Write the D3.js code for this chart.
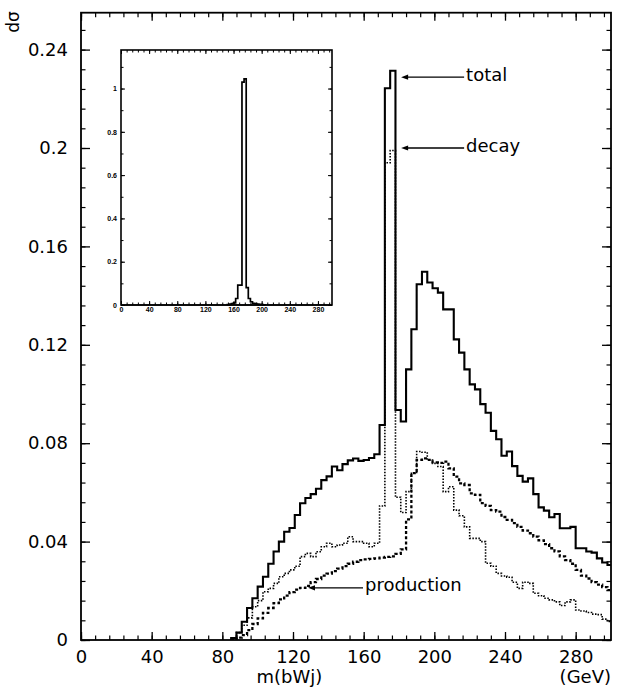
<!DOCTYPE html>
<html><head><meta charset="utf-8">
<script src="https://cdn.jsdelivr.net/npm/d3@7"></script>
<style>body{margin:0;background:#fff} svg{display:block}</style>
</head><body>
<svg id="chart" width="618" height="688"></svg>
<script>
// ---------- data (3 GeV bins, low edges in GeV) ----------
const binLowEdges = [85,88,91,94,97,100,103,106,109,112,115,118,121,124,127,130,
  133,136,139,142,145,148,151,154,157,160,163,166,169,172,175,178,181,184,187,190,
  193,196,199,202,205,208,211,214,217,220,223,226,229,232,235,238,241,244,247,250,
  253,256,259,262,265,268,271,274,277,280,283,286,289,292,295,298];
const binWidth = 3;
const totalValues = [0.0008,0.003,0.0074,0.013,0.017,0.0217,0.0257,0.031,0.036,0.040,0.044,0.0455,0.0508,0.0556,0.0577,0.0593,
  0.0615,0.065,0.0665,0.0705,0.069,0.0715,0.073,0.0738,0.0728,0.0732,0.074,0.0755,0.0874,0.2243,0.2314,0.0935,0.0888,0.110,0.1263,0.1446,
  0.1497,0.1453,0.143,0.1412,0.1344,0.1344,0.1222,0.1168,0.110,0.1039,0.1019,0.0959,0.0924,0.085,0.0816,0.0749,0.0766,0.0707,0.0667,0.0644,
  0.0657,0.0593,0.0539,0.0526,0.0499,0.0512,0.0454,0.0454,0.046,0.0373,0.0373,0.036,0.0355,0.0332,0.0315,0.0305];
const decayValues = [0.0008,0.003,0.006,0.009,0.0135,0.016,0.0196,0.021,0.023,0.0257,0.0271,0.0285,0.030,0.0339,0.0352,0.0339,
  0.0359,0.0379,0.0393,0.0379,0.0386,0.0393,0.042,0.040,0.040,0.0393,0.0379,0.0393,0.0545,0.194,0.199,0.058,0.0518,0.0603,0.0678,0.0766,
  0.0763,0.0732,0.0718,0.0705,0.0603,0.0623,0.0528,0.0505,0.046,0.0413,0.0413,0.040,0.0312,0.030,0.0271,0.026,0.0255,0.0235,0.021,0.0235,
  0.023,0.019,0.018,0.017,0.0163,0.0155,0.014,0.0155,0.0163,0.0122,0.0118,0.0112,0.0105,0.0103,0.0085,0.0075];
const productionValues = [0.0,0.001,0.002,0.004,0.0065,0.0088,0.011,0.013,0.015,0.0165,0.018,0.0195,0.0205,0.0212,0.022,0.0235,
  0.0248,0.0262,0.027,0.028,0.029,0.030,0.031,0.0318,0.0325,0.0328,0.033,0.0332,0.0335,0.0338,0.034,0.035,0.0368,0.049,0.0678,0.0732,
  0.0738,0.0732,0.0722,0.072,0.0725,0.0698,0.0664,0.0637,0.063,0.0596,0.059,0.0556,0.0545,0.0528,0.0522,0.050,0.0488,0.0475,0.046,0.0445,
  0.0434,0.042,0.0405,0.039,0.0373,0.036,0.034,0.0325,0.031,0.0285,0.0262,0.025,0.0235,0.0225,0.0215,0.0203];

const insetBinLowEdges = [151,154,157,160,163,166,169,172,175,178,181,184,187,190,193,196,199,202];
const insetValues = [0.002,0.004,0.006,0.01,0.03,0.092,0.092,1.03,1.045,0.08,0.03,0.015,0.008,0.006,0.004,0.003,0.002,0.001];

const xMajorTicks = [0,40,80,120,160,200,240,280];
const yMajorTicks = [0,0.04,0.08,0.12,0.16,0.2,0.24];
const yTickLabels = ["0","0.04","0.08","0.12","0.16","0.2","0.24"];
const insetYTicks = [0,0.2,0.4,0.6,0.8,1];
const insetYTickLabels = ["0","0.2","0.4","0.6","0.8","1"];
const seriesNames = ["total","decay","production"];

// ---------- drawing ----------
const svg = d3.select("#chart");
const FONT = "DejaVu Sans, sans-serif";

const x = d3.scaleLinear().domain([0,300]).range([81,611]);
const y = d3.scaleLinear().domain([0,0.255]).range([640,12.7]);

function histPoints(edges, vals, w) {
  const pts = [[edges[0], 0]];
  edges.forEach((e,i) => { pts.push([e, vals[i]]); pts.push([e + w, vals[i]]); });
  pts.push([edges[edges.length-1] + w, 0]);
  return pts;
}

svg.append("defs").append("clipPath").attr("id","clipMain")
  .append("rect").attr("x",x(0)).attr("y",y(0.255)).attr("width",x(300)-x(0)).attr("height",y(0)-y(0.255));

function styleAxis(g, size, width) {
  g.select(".domain").remove();
  g.selectAll(".tick line").attr("stroke","#000").attr("stroke-width",width);
  g.selectAll(".tick text").attr("font-family",FONT).attr("font-size",size).attr("fill","#000");
}

// main axes: minor ticks
const xMinor = d3.range(0, 301, 8);
const yMinor = d3.range(0, 0.2551, 0.008);
svg.append("g").attr("transform",`translate(0,${y(0)})`)
  .call(d3.axisBottom(x).tickValues(xMinor).tickSize(-4.5).tickFormat("")).call(g=>styleAxis(g,18,1.2));
svg.append("g").attr("transform",`translate(0,${y(0.255)})`)
  .call(d3.axisTop(x).tickValues(xMinor).tickSize(-4.5).tickFormat("")).call(g=>styleAxis(g,18,1.2));
svg.append("g").attr("transform",`translate(${x(0)},0)`)
  .call(d3.axisLeft(y).tickValues(yMinor).tickSize(-4.5).tickFormat("")).call(g=>styleAxis(g,18,1.2));
svg.append("g").attr("transform",`translate(${x(300)},0)`)
  .call(d3.axisRight(y).tickValues(yMinor).tickSize(-4.5).tickFormat("")).call(g=>styleAxis(g,18,1.2));
// main axes: major ticks
svg.append("g").attr("transform",`translate(0,${y(0)})`)
  .call(d3.axisBottom(x).tickValues(xMajorTicks).tickSize(-8).tickPadding(10).tickFormat(d=>String(d)))
  .call(g=>styleAxis(g,18,1.3));
svg.append("g").attr("transform",`translate(0,${y(0.255)})`)
  .call(d3.axisTop(x).tickValues(xMajorTicks).tickSize(-8).tickFormat("")).call(g=>styleAxis(g,18,1.3));
svg.append("g").attr("transform",`translate(${x(0)},0)`)
  .call(d3.axisLeft(y).tickValues(yMajorTicks).tickSize(-9).tickPadding(13).tickFormat((d,i)=>yTickLabels[i]))
  .call(g=>styleAxis(g,18,1.3));
svg.append("g").attr("transform",`translate(${x(300)},0)`)
  .call(d3.axisRight(y).tickValues(yMajorTicks).tickSize(-9).tickFormat("")).call(g=>styleAxis(g,18,1.3));

// frame
svg.append("rect").attr("x",x(0)).attr("y",y(0.255)).attr("width",x(300)-x(0)).attr("height",y(0)-y(0.255))
  .attr("fill","none").attr("stroke","#000").attr("stroke-width",1.8);

// histograms
const line = d3.line().x(d=>x(d[0])).y(d=>y(d[1]));
const plot = svg.append("g").attr("clip-path","url(#clipMain)");
plot.append("path").datum(histPoints(binLowEdges, productionValues, binWidth))
  .attr("d", line).attr("fill","none").attr("stroke","#000").attr("stroke-width",2.3).attr("stroke-dasharray","3,2.2");
plot.append("path").datum(histPoints(binLowEdges, decayValues, binWidth))
  .attr("d", line).attr("fill","none").attr("stroke","#000").attr("stroke-width",1.6).attr("stroke-dasharray","1.5,1.5");
plot.append("path").datum(histPoints(binLowEdges, totalValues, binWidth))
  .attr("d", line).attr("fill","none").attr("stroke","#000").attr("stroke-width",2.1);

// annotations
function arrow(tipX, tipY, len, label) {
  const g = svg.append("g");
  g.append("line").attr("x1",tipX+4).attr("y1",tipY).attr("x2",tipX+len).attr("y2",tipY)
    .attr("stroke","#000").attr("stroke-width",1.4);
  g.append("path").attr("d",`M${tipX},${tipY}L${tipX+7},${tipY-2.6}L${tipX+7},${tipY+2.6}Z`).attr("fill","#000");
  g.append("text").attr("x",tipX+len+2).attr("y",tipY+3.5).attr("font-family",FONT).attr("font-size",18)
    .text(label);
}
arrow(x(181.2), y(0.2288), 63, seriesNames[0]);
arrow(x(181.2), y(0.2), 63, seriesNames[1]);
arrow(x(128.5), y(0.0212), 55, seriesNames[2]);

// axis titles
svg.append("text").attr("x",x(118)).attr("y",683).attr("text-anchor","middle")
  .attr("font-family",FONT).attr("font-size",18).text("m(bWj)");
svg.append("text").attr("x",611).attr("y",683).attr("text-anchor","end")
  .attr("font-family",FONT).attr("font-size",18).text("(GeV)");
svg.append("text").attr("transform","translate(19,22) rotate(-90)").attr("text-anchor","middle")
  .attr("font-family",FONT).attr("font-size",17).text("dσ");

// ---------- inset ----------
const xi = d3.scaleLinear().domain([0,300]).range([121,332]);
const yi = d3.scaleLinear().domain([0,1.178]).range([305,50]);
const inset = svg.append("g");
inset.append("rect").attr("x",xi(0)).attr("y",yi(1.178)).attr("width",xi(300)-xi(0)).attr("height",yi(0)-yi(1.178))
  .attr("fill","#fff").attr("stroke","none");
const IFONT = "Liberation Sans, Arial, sans-serif";
function styleInset(g) {
  g.select(".domain").remove();
  g.selectAll(".tick line").attr("stroke","#000").attr("stroke-width",1);
  g.selectAll(".tick text").attr("font-family",IFONT).attr("font-size",7).attr("font-weight","bold").attr("fill","#000");
}
const xiMinor = d3.range(0,301,8);
const yiMinor = d3.range(0,1.18,0.1);
inset.append("g").attr("transform",`translate(0,${yi(0)})`)
  .call(d3.axisBottom(xi).tickValues(xiMinor).tickSize(-2.5).tickFormat("")).call(styleInset);
inset.append("g").attr("transform",`translate(0,${yi(1.178)})`)
  .call(d3.axisTop(xi).tickValues(xiMinor).tickSize(-2.5).tickFormat("")).call(styleInset);
inset.append("g").attr("transform",`translate(${xi(0)},0)`)
  .call(d3.axisLeft(yi).tickValues(yiMinor).tickSize(-2.5).tickFormat("")).call(styleInset);
inset.append("g").attr("transform",`translate(${xi(300)},0)`)
  .call(d3.axisRight(yi).tickValues(yiMinor).tickSize(-2.5).tickFormat("")).call(styleInset);
inset.append("g").attr("transform",`translate(0,${yi(0)})`)
  .call(d3.axisBottom(xi).tickValues(xMajorTicks).tickSize(-4).tickPadding(2.5).tickFormat(d=>String(d))).call(styleInset);
inset.append("g").attr("transform",`translate(${xi(0)},0)`)
  .call(d3.axisLeft(yi).tickValues(insetYTicks).tickSize(-4).tickPadding(4).tickFormat((d,i)=>insetYTickLabels[i])).call(styleInset);
inset.append("g").attr("transform",`translate(${xi(300)},0)`)
  .call(d3.axisRight(yi).tickValues(insetYTicks).tickSize(-4).tickFormat("")).call(styleInset);
inset.append("g").attr("transform",`translate(0,${yi(1.178)})`)
  .call(d3.axisTop(xi).tickValues(xMajorTicks).tickSize(-4).tickFormat("")).call(styleInset);

const iline = d3.line().x(d=>xi(d[0])).y(d=>yi(d[1]));
inset.append("path").datum(histPoints(insetBinLowEdges, insetValues, binWidth))
  .attr("d", iline).attr("fill","none").attr("stroke","#000").attr("stroke-width",1.7);
inset.append("line").attr("x1",xi(0)).attr("x2",xi(300)).attr("y1",yi(0)).attr("y2",yi(0))
  .attr("stroke","#000").attr("stroke-width",1.6);
inset.append("rect").attr("x",xi(0)).attr("y",yi(1.178)).attr("width",xi(300)-xi(0)).attr("height",yi(0)-yi(1.178))
  .attr("fill","none").attr("stroke","#000").attr("stroke-width",1.6);
</script>
</body></html>
